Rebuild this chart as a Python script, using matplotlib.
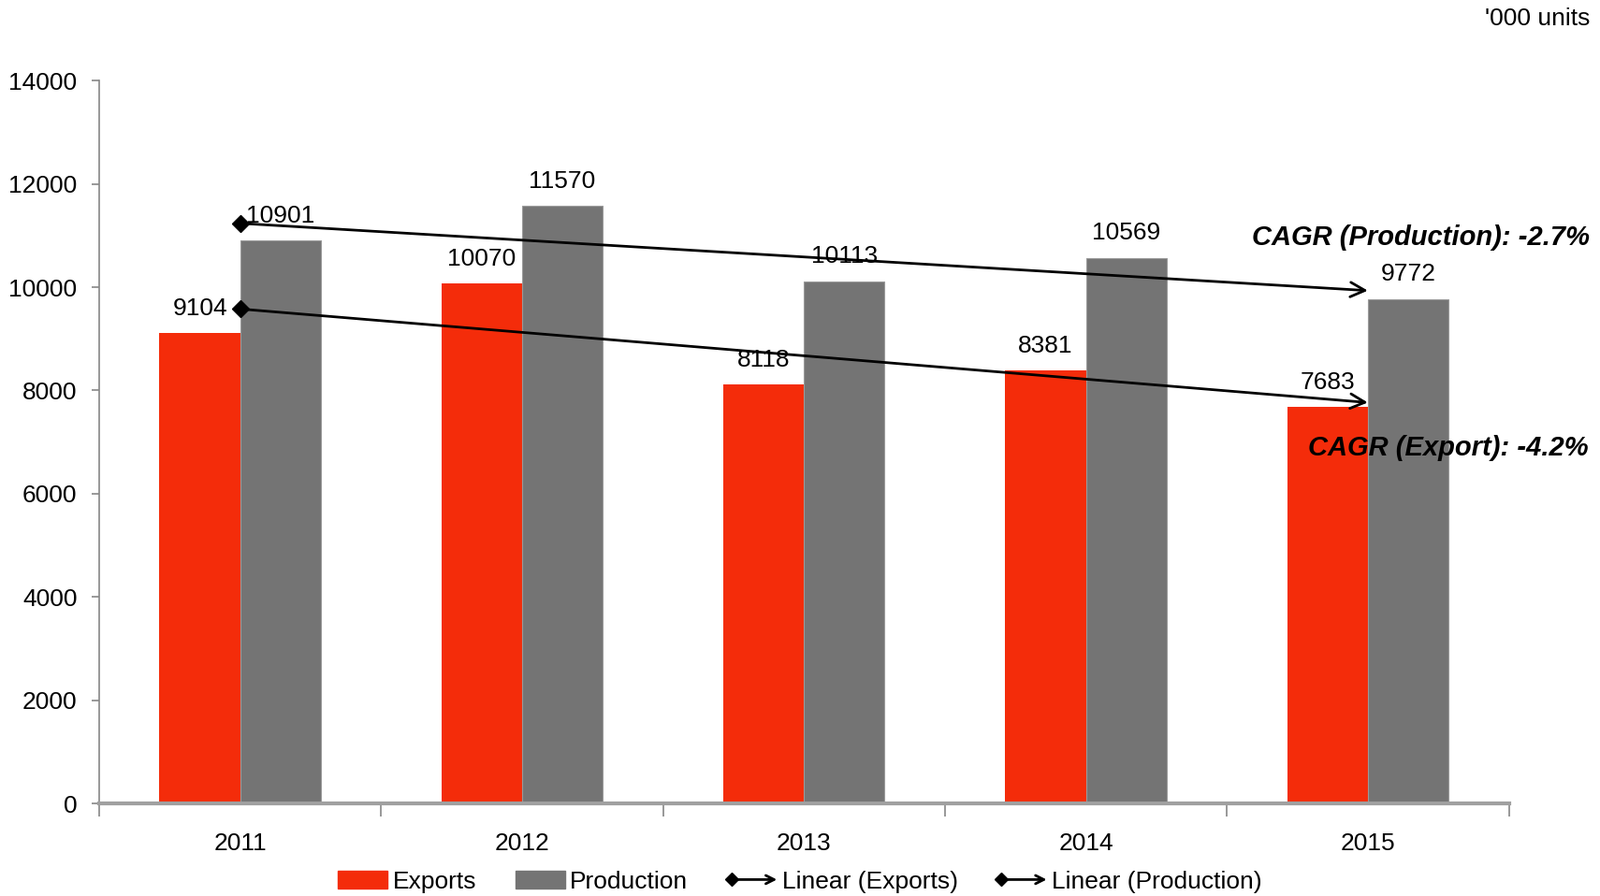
import numpy as np
import matplotlib
matplotlib.use("Agg")
import matplotlib.pyplot as plt
from matplotlib.legend_handler import HandlerBase
from matplotlib.lines import Line2D
from matplotlib.patches import FancyArrowPatch, Patch

plt.rcParams['font.family'] = ['Liberation Sans', 'DejaVu Sans']

years = ['2011', '2012', '2013', '2014', '2015']
exports = [9104, 10070, 8118, 8381, 7683]
production = [10901, 11570, 10113, 10569, 9772]
cagr_production = "CAGR (Production): -2.7%"
cagr_export = "CAGR (Export): -4.2%"
unit_label = "'000 units"

RED = '#F42C0A'
GREY = '#747474'
FS = 19


class TrendHandler(HandlerBase):
    # legend key: diamond on the left, arrow head on the right
    def create_artists(self, legend, orig_handle, xdescent, ydescent,
                       width, height, fontsize, trans):
        y = height / 2 - ydescent
        arrow = FancyArrowPatch((-xdescent + 3, y), (width - xdescent, y),
                                arrowstyle='->', mutation_scale=16, lw=2,
                                color='black', shrinkA=0, shrinkB=0,
                                transform=trans)
        dia = Line2D([-xdescent + 3], [y], marker='D', ms=7, color='black',
                     lw=0, transform=trans)
        return [arrow, dia]


fig = plt.figure(figsize=(17.1, 9.58), dpi=100)
ax = fig.add_axes([0.062, 0.1033, 0.881, 0.8067])

x = np.arange(len(years))
w = 0.286
ax.bar(x - w / 2, exports, w, color=RED, linewidth=0, zorder=2)
ax.bar(x + w / 2, production, w, color=GREY, edgecolor='#9a9a9a',
       linewidth=0.8, zorder=2)

for xi, v in zip(x, exports):
    ax.annotate(str(v), (xi - w / 2, v), xytext=(0, 19), textcoords='offset points',
                ha='center', va='center', fontsize=FS, zorder=5)
for xi, v in zip(x, production):
    ax.annotate(str(v), (xi + w / 2, v), xytext=(0, 19), textcoords='offset points',
                ha='center', va='center', fontsize=FS, zorder=5)

# linear trend lines (least squares, like the spreadsheet trendline)
for vals in (exports, production):
    k, b = np.polyfit(x, vals, 1)
    y0, y1 = b, k * x[-1] + b
    ax.annotate('', xy=(x[-1], y1), xytext=(x[0], y0),
                arrowprops=dict(arrowstyle='->', lw=2, color='black',
                                mutation_scale=28, shrinkA=0, shrinkB=0),
                zorder=4)
    ax.plot([x[0]], [y0], marker='D', ms=9, color='black', zorder=4)

ax.set_xlim(-0.5, len(years) - 0.5)
ax.set_ylim(0, 14000)
ax.set_yticks(np.arange(0, 14001, 2000))
ax.tick_params(axis='y', labelsize=FS, length=6, color='#868686', width=1.2, pad=11)
ax.set_xticks(x)
ax.set_xticklabels(years)
ax.tick_params(axis='x', which='major', length=0, labelsize=FS, pad=22)
ax.set_xticks(np.arange(-0.5, len(years)), minor=True)
ax.tick_params(axis='x', which='minor', length=10, color='#868686', width=1.2)

for s in ('top', 'right'):
    ax.spines[s].set_visible(False)
ax.spines['left'].set_color('#868686')
ax.spines['left'].set_linewidth(1.2)
ax.spines['bottom'].set_color('#a0a0a0')
ax.spines['bottom'].set_linewidth(3)

fig.text(0.9935, 0.979, unit_label, ha='right', va='center', fontsize=FS)
fig.text(0.9935, 1 - 254 / 958, cagr_production, ha='right', va='center',
         fontsize=21, fontweight='bold', fontstyle='italic', zorder=6)
fig.text(0.9925, 1 - 479 / 958, cagr_export, ha='right', va='center',
         fontsize=21, fontweight='bold', fontstyle='italic', zorder=6)

handles = [Patch(color=RED), Patch(color=GREY), Line2D([], []), Line2D([], [])]
labels = ['Exports', 'Production', 'Linear (Exports)', 'Linear (Production)']
fig.legend(handles, labels, ncol=4, loc='center', bbox_to_anchor=(0.5, 0.016),
           frameon=False, fontsize=FS, handlelength=2.0, handleheight=0.7,
           handletextpad=0.2, columnspacing=1.6,
           handler_map={handles[2]: TrendHandler(), handles[3]: TrendHandler()})

fig.savefig('out.png', dpi=100)
